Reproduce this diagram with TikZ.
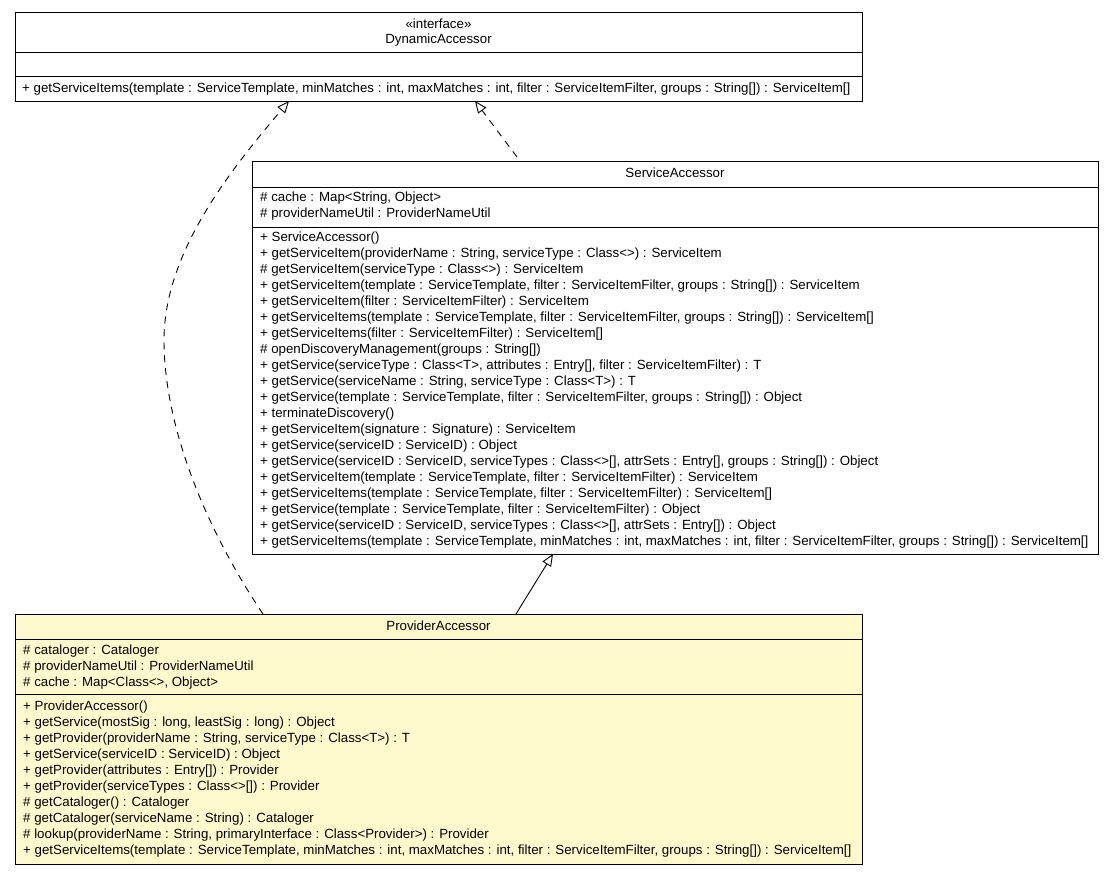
\documentclass[tikz,border=0pt]{standalone}
\usepackage{fontspec}
\setmainfont{Liberation Sans}
\usetikzlibrary{arrows.meta}
\definecolor{classfill}{HTML}{FFFACD}
\tikzset{
  classbox/.style={draw=black, line width=1pt, fill=white, inner sep=0pt, anchor=north west},
  activebox/.style={classbox, fill=classfill},
  sep/.style={draw=black, line width=1pt},
  mline/.style={anchor=mid west, inner sep=0pt, font=\fontsize{13.3}{15}\selectfont},
  ctitle/.style={anchor=mid, inner sep=0pt, font=\fontsize{13.3}{15}\selectfont},
  realize/.style={draw=black, line width=0.9pt, dash pattern=on 7pt off 6pt,
    -{Triangle[open, length=12pt, width=10pt, fill=white]}},
  extend/.style={draw=black, line width=0.9pt,
    -{Triangle[open, length=12pt, width=10pt, fill=white]}}
}
\begin{document}
\begin{tikzpicture}[x=1pt, y=-1pt]
\useasboundingbox[fill=white] (0,0) rectangle (1113,875);

% interface DynamicAccessor
\node[classbox, minimum width=847pt, minimum height=89pt] (da) at (15,12) {};
\draw[sep] (15,53) -- (862,53);
\draw[sep] (15,76) -- (862,76);
\node[ctitle] (da-st) at (438.5,25.5) {«interface»};
\node[ctitle] (da-t) at (438.5,40.5) {DynamicAccessor};
\node[mline] (da-m1) at (22,89.5) {+ getServiceItems(template : ServiceTemplate, minMatches : int, maxMatches : int, filter : ServiceItemFilter, groups : String[]) : ServiceItem[]};

% class ServiceAccessor
\node[classbox, minimum width=846pt, minimum height=393pt] (sa) at (252,161) {};
\draw[sep] (252,187) -- (1098,187);
\draw[sep] (252,227) -- (1098,227);
\node[ctitle] (sa-t) at (675,174.5) {ServiceAccessor};
\foreach \t [count=\i] in {
  {\# cache : Map<String, Object>},
  {\# providerNameUtil : ProviderNameUtil}}
  \node[mline] (sa-a\i) at (260,{182.5+16*\i}) {\t};
\foreach \t [count=\i] in {
  {+ ServiceAccessor()},
  {+ getServiceItem(providerName : String, serviceType : Class<>) : ServiceItem},
  {\# getServiceItem(serviceType : Class<>) : ServiceItem},
  {+ getServiceItem(template : ServiceTemplate, filter : ServiceItemFilter, groups : String[]) : ServiceItem},
  {+ getServiceItem(filter : ServiceItemFilter) : ServiceItem},
  {+ getServiceItems(template : ServiceTemplate, filter : ServiceItemFilter, groups : String[]) : ServiceItem[]},
  {+ getServiceItems(filter : ServiceItemFilter) : ServiceItem[]},
  {\# openDiscoveryManagement(groups : String[])},
  {+ getService(serviceType : Class<T>, attributes : Entry[], filter : ServiceItemFilter) : T},
  {+ getService(serviceName : String, serviceType : Class<T>) : T},
  {+ getService(template : ServiceTemplate, filter : ServiceItemFilter, groups : String[]) : Object},
  {+ terminateDiscovery()},
  {+ getServiceItem(signature : Signature) : ServiceItem},
  {+ getService(serviceID : ServiceID) : Object},
  {+ getService(serviceID : ServiceID, serviceTypes : Class<>[], attrSets : Entry[], groups : String[]) : Object},
  {+ getServiceItem(template : ServiceTemplate, filter : ServiceItemFilter) : ServiceItem},
  {+ getServiceItems(template : ServiceTemplate, filter : ServiceItemFilter) : ServiceItem[]},
  {+ getService(template : ServiceTemplate, filter : ServiceItemFilter) : Object},
  {+ getService(serviceID : ServiceID, serviceTypes : Class<>[], attrSets : Entry[]) : Object},
  {+ getServiceItems(template : ServiceTemplate, minMatches : int, maxMatches : int, filter : ServiceItemFilter, groups : String[]) : ServiceItem[]}}
  \node[mline] (sa-m\i) at (260,{222.5+16*\i}) {\t};

% class ProviderAccessor
\node[activebox, minimum width=847pt, minimum height=250pt] (pa) at (15,614) {};
\draw[sep] (15,639) -- (862,639);
\draw[sep] (15,694) -- (862,694);
\node[ctitle] (pa-t) at (438.5,627.5) {ProviderAccessor};
\foreach \t [count=\i] in {
  {\# cataloger : Cataloger},
  {\# providerNameUtil : ProviderNameUtil},
  {\# cache : Map<Class<>, Object>}}
  \node[mline] (pa-a\i) at (23,{635.5+16*\i}) {\t};
\foreach \t [count=\i] in {
  {+ ProviderAccessor()},
  {+ getService(mostSig : long, leastSig : long) : Object},
  {+ getProvider(providerName : String, serviceType : Class<T>) : T},
  {+ getService(serviceID : ServiceID) : Object},
  {+ getProvider(attributes : Entry[]) : Provider},
  {+ getProvider(serviceTypes : Class<>[]) : Provider},
  {\# getCataloger() : Cataloger},
  {\# getCataloger(serviceName : String) : Cataloger},
  {\# lookup(providerName : String, primaryInterface : Class<Provider>) : Provider},
  {+ getServiceItems(template : ServiceTemplate, minMatches : int, maxMatches : int, filter : ServiceItemFilter, groups : String[]) : ServiceItem[]}}
  \node[mline] (pa-m\i) at (23,{691.5+16*\i}) {\t};

% connector end points
\coordinate (sa-in) at (517,157);
\coordinate (da-out1) at (475,101);
\coordinate (pa-in1) at (263,614);
\coordinate (da-out2) at (289,101);
\coordinate (pa-in2) at (516,614);
\coordinate (sa-out) at (553,554);

% realizations and generalization
\draw[realize] (sa-in) -- (da-out1);
\draw[realize] (pa-in1) .. controls (200,520) and (164,420) .. (164,340)
  .. controls (164,250) and (235,165) .. (da-out2);
\draw[extend] (pa-in2) -- (sa-out);
\end{tikzpicture}
\end{document}
